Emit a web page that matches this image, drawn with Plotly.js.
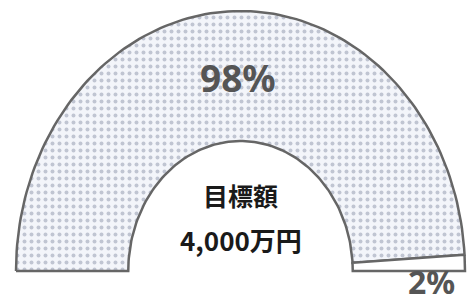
<!DOCTYPE html>
<html>
<head>
<meta charset="utf-8">
<script src="https://cdn.plot.ly/plotly-3.0.1.min.js"></script>
<style>html,body{margin:0;padding:0;background:#fff;}</style>
</head>
<body>
<div id="chart" style="width:468px;height:303px;"></div>
<script>
// ---- data ----
const segLabels = ['98%', '2%'];
const segValues = [98, 2];
const centerLines = ['目標額', '4,000万円'];

// ---- styles ----
const segFills = ['#f2f4f9', '#ffffff'];
const hole = 0.5;
const lineColor = '#666666';

const total = segValues.reduce((a, b) => a + b, 0);
const traces = [];
let startFrac = 0;
segValues.forEach((v, i) => {
  const a0 = Math.PI * (1 - startFrac);
  const a1 = Math.PI * (1 - (startFrac + v / total));
  const n = 120;
  const xs = [], ys = [];
  for (let k = 0; k <= n; k++) {
    const a = a0 + (a1 - a0) * k / n;
    xs.push(Math.cos(a)); ys.push(Math.sin(a));
  }
  for (let k = n; k >= 0; k--) {
    const a = a0 + (a1 - a0) * k / n;
    xs.push(hole * Math.cos(a)); ys.push(hole * Math.sin(a));
  }
  xs.push(xs[0]); ys.push(ys[0]);
  const tr = {
    type: 'scatter', mode: 'lines', x: xs, y: ys,
    fill: 'toself', fillcolor: segFills[i],
    line: {color: lineColor, width: 2.5},
    hoverinfo: 'skip', name: segLabels[i]
  };
  if (i === 0) {
    tr.fillpattern = {shape: '.', bgcolor: '#f3f5fa', fgcolor: '#c0c5d2', size: 7, solidity: 0.25};
  }
  traces.push(tr);
  startFrac += v / total;
});

const layout = {
  width: 468, height: 303,
  margin: {l: 0, r: 0, t: 0, b: 0},
  paper_bgcolor: '#ffffff', plot_bgcolor: '#ffffff',
  showlegend: false,
  xaxis: {range: [-1.0713, 1.0134], visible: false, fixedrange: true},
  yaxis: {range: [-0.123, 1.0423], visible: false, fixedrange: true},
  annotations: [
    {x: -0.01, y: 0.745, text: segLabels[0], showarrow: false,
     font: {family: 'Noto Sans, sans-serif', size: 37, color: '#555555', weight: 'bold'}},
    {x: 0.85, y: -0.042, text: segLabels[1], showarrow: false,
     font: {family: 'Noto Sans, sans-serif', size: 32, color: '#555555', weight: 'bold'}},
    {x: 0, y: 0.293, text: centerLines[0], showarrow: false,
     font: {family: 'Noto Sans CJK JP, sans-serif', size: 25, color: '#1a1a1a', weight: 'bold'}},
    {x: 0, y: 0.12, text: centerLines[1], showarrow: false,
     font: {family: 'Noto Sans CJK JP, sans-serif', size: 26, color: '#1a1a1a', weight: 'bold'}}
  ]
};

Plotly.newPlot('chart', traces, layout, {displayModeBar: false, staticPlot: true});
</script>
</body>
</html>
